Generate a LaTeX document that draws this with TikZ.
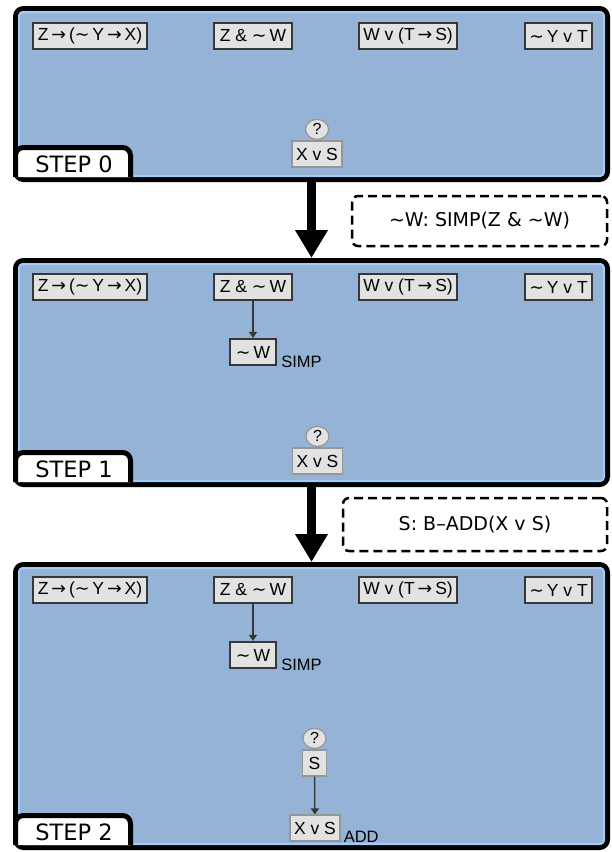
\documentclass[tikz,border=0pt]{standalone}
\usepackage{fontspec}
\setmainfont{DejaVu Sans}
\newfontfamily\boxfont{Liberation Sans}
\newfontfamily\symfont{DejaVu Sans}
\usetikzlibrary{arrows.meta,shapes.geometric}

\definecolor{panelblue}{RGB}{149,179,215}
\definecolor{rimblue}{RGB}{160,204,248}
\definecolor{boxgray}{RGB}{226,226,226}
\definecolor{boxedge}{RGB}{55,55,55}
\definecolor{goaledge}{RGB}{150,150,150}

\newcommand{\lneg}{{\symfont ∼}}
\newcommand{\limp}{{\symfont →}}

\tikzset{
  panelbox/.style={rectangle, rounded corners=8pt, line width=5pt, draw=black,
    fill=panelblue, inner sep=0pt},
  rim/.style={draw=rimblue, line width=2pt, rounded corners=4pt},
  steptab/.style={fill=white, draw=black, line width=5pt, rounded corners=8pt},
  steptext/.style={inner sep=0pt, font=\fontsize{22.5}{22.5}\selectfont},
  premise/.style={rectangle, draw=boxedge, line width=2.2pt, fill=boxgray,
    minimum height=26pt, inner sep=0pt, font=\boxfont\fontsize{17.5}{17.5}\selectfont},
  goal/.style={premise, draw=goaledge, line width=1.2pt},
  query/.style={ellipse, draw=goaledge, line width=1.2pt, fill=boxgray,
    minimum width=23pt, minimum height=20pt, inner sep=0pt,
    font=\boxfont\fontsize{16}{16}\selectfont},
  rulelabel/.style={anchor=base west, inner sep=0pt,
    font=\boxfont\fontsize{16.5}{16.5}\selectfont},
  notebox/.style={rectangle, rounded corners=6pt, draw=black, line width=2.5pt,
    dash pattern=on 9pt off 5pt, fill=white, inner sep=0pt,
    font=\fontsize{19}{19}\selectfont},
  bigarrow/.style={line width=9pt, -{Triangle[width=31pt,length=28pt]}},
  link/.style={draw=boxedge, line width=1.3pt, -{Triangle[width=8pt,length=6pt]}}
}

\begin{document}
\begin{tikzpicture}[x=1pt,y=-1pt]
\useasboundingbox[fill=white] (0,0) rectangle (612,852);

% ---------- the three step panels ----------
\node[panelbox, minimum width=592pt, minimum height=171pt] (p0) at (311.5,94) {};
\node[panelbox, minimum width=592pt, minimum height=224pt] (p1) at (311.5,372.5) {};
\node[panelbox, minimum width=592pt, minimum height=283pt] (p2) at (311.5,706) {};

\foreach \p in {p0,p1,p2}
  \draw[rim] ([shift={(6,6)}]\p.north west) rectangle ([shift={(-6,-6)}]\p.south east);

% step tabs in the lower left corners
\filldraw[steptab] (15.5,177) -- (15.5,147.5) -- (130.5,147.5) -- (130.5,177);
\node[steptext] (s0) at (74,164) {STEP 0};
\filldraw[steptab] (15.5,482) -- (15.5,452.5) -- (130.5,452.5) -- (130.5,482);
\node[steptext] (s1) at (74,469.5) {STEP 1};
\filldraw[steptab] (15.5,845) -- (15.5,815.5) -- (130.5,815.5) -- (130.5,845);
\node[steptext] (s2) at (74,832.5) {STEP 2};

% ---------- step 0 ----------
\node[premise, minimum width=114pt] (a0) at (90,36) {Z\,\limp\,(\lneg\,Y\,\limp\,X)};
\node[premise, minimum width=78pt]  (b0) at (253,36) {Z \& \lneg\,W};
\node[premise, minimum width=98pt]  (c0) at (408,36) {W v (T\,\limp\,S)};
\node[premise, minimum width=67pt]  (d0) at (558.5,36) {\lneg\,Y v T};
\node[goal, minimum width=50pt] (g0) at (317,154) {X v S};
\node[query] (q0) at ([yshift=11pt]g0.north) {?};

% ---------- step 1 ----------
\node[premise, minimum width=114pt] (a1) at (90,287) {Z\,\limp\,(\lneg\,Y\,\limp\,X)};
\node[premise, minimum width=78pt]  (b1) at (253,287) {Z \& \lneg\,W};
\node[premise, minimum width=98pt]  (c1) at (408,287) {W v (T\,\limp\,S)};
\node[premise, minimum width=67pt]  (d1) at (558.5,287) {\lneg\,Y v T};
\node[premise, minimum width=46pt]  (w1) at (253,352) {\lneg\,W};
\node[rulelabel] (r1) at ([shift={(4,1)}]w1.south east) {SIMP};
\draw[link] (b1) -- (w1);
\node[goal, minimum width=50pt] (g1) at (317.5,461) {X v S};
\node[query] (q1) at ([yshift=11pt]g1.north) {?};

% ---------- step 2 ----------
\node[premise, minimum width=114pt] (a2) at (90,590) {Z\,\limp\,(\lneg\,Y\,\limp\,X)};
\node[premise, minimum width=78pt]  (b2) at (253,590) {Z \& \lneg\,W};
\node[premise, minimum width=98pt]  (c2) at (408,590) {W v (T\,\limp\,S)};
\node[premise, minimum width=67pt]  (d2) at (558.5,590) {\lneg\,Y v T};
\node[premise, minimum width=46pt]  (w2) at (253,655) {\lneg\,W};
\node[rulelabel] (r2) at ([shift={(4,1)}]w2.south east) {SIMP};
\draw[link] (b2) -- (w2);
\node[goal, minimum width=24pt] (t2) at (314.5,763) {S};
\node[query] (q2) at ([yshift=11pt]t2.north) {?};
\node[goal, minimum width=50pt] (g2) at (315,828) {X v S};
\node[rulelabel] (r3) at ([shift={(3,1)}]g2.south east) {ADD};
\draw[link] (t2) -- (g2);

% ---------- transitions between steps ----------
\draw[bigarrow] (p0.south) -- (p1.north);
\draw[bigarrow] (p1.south) -- (p2.north);
\node[notebox, minimum width=255pt, minimum height=50pt] (n1) at (479.5,221) {\textasciitilde W: SIMP(Z \& \textasciitilde W)};
\node[notebox, minimum width=264pt, minimum height=53pt] (n2) at (475,524.5) {S: B–ADD(X v S)};
\end{tikzpicture}
\end{document}
